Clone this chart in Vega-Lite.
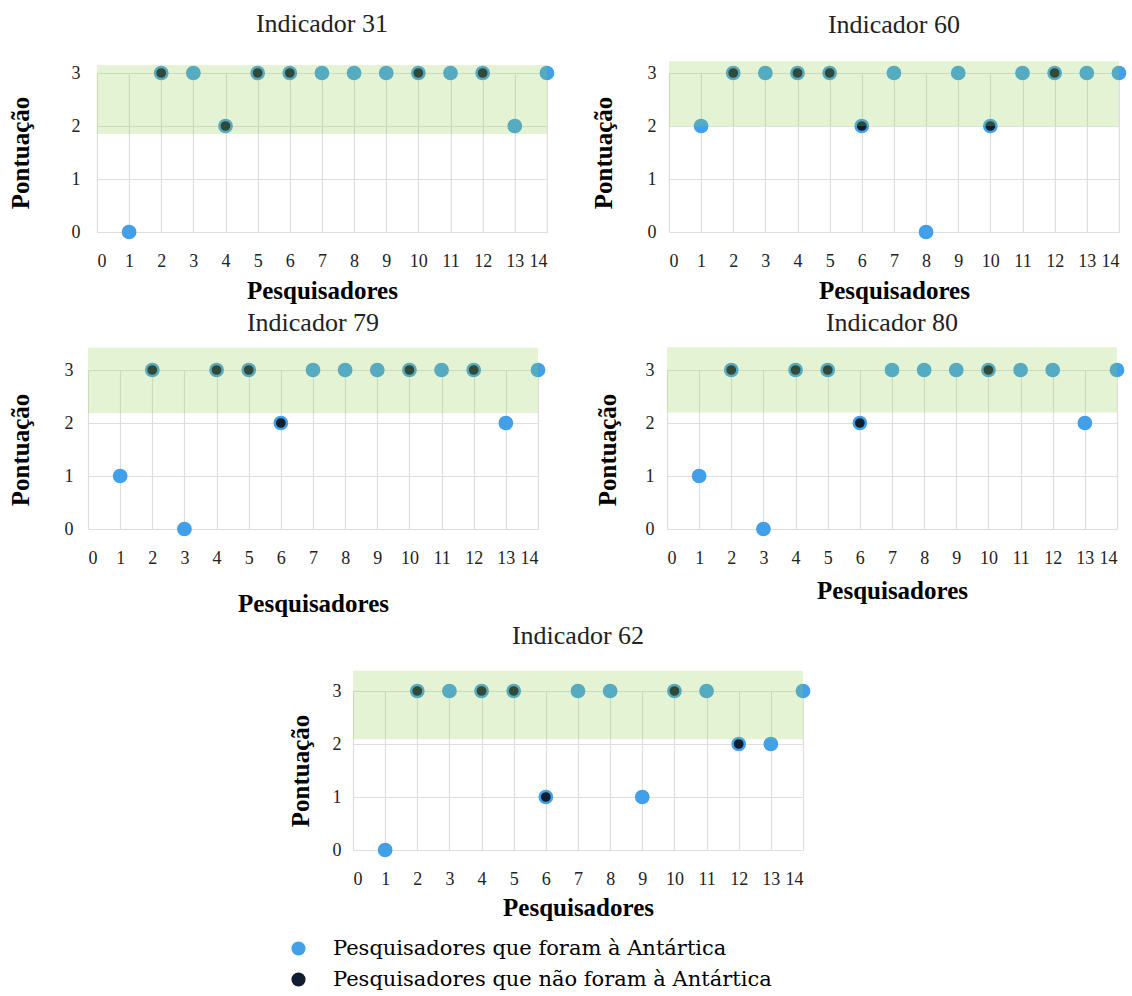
{
  "$schema": "https://vega.github.io/schema/vega-lite/v6.json",
  "padding": {"left": 8, "top": 10, "right": 2, "bottom": 2},
  "background": "white",
  "datasets": {
    "pts": [
      {"ind": 31, "pesquisador": 1, "pontuacao": 0, "grupo": "Pesquisadores que foram à Antártica"},
      {"ind": 31, "pesquisador": 2, "pontuacao": 3, "grupo": "Pesquisadores que não foram à Antártica"},
      {"ind": 31, "pesquisador": 3, "pontuacao": 3, "grupo": "Pesquisadores que foram à Antártica"},
      {"ind": 31, "pesquisador": 4, "pontuacao": 2, "grupo": "Pesquisadores que não foram à Antártica"},
      {"ind": 31, "pesquisador": 5, "pontuacao": 3, "grupo": "Pesquisadores que não foram à Antártica"},
      {"ind": 31, "pesquisador": 6, "pontuacao": 3, "grupo": "Pesquisadores que não foram à Antártica"},
      {"ind": 31, "pesquisador": 7, "pontuacao": 3, "grupo": "Pesquisadores que foram à Antártica"},
      {"ind": 31, "pesquisador": 8, "pontuacao": 3, "grupo": "Pesquisadores que foram à Antártica"},
      {"ind": 31, "pesquisador": 9, "pontuacao": 3, "grupo": "Pesquisadores que foram à Antártica"},
      {"ind": 31, "pesquisador": 10, "pontuacao": 3, "grupo": "Pesquisadores que não foram à Antártica"},
      {"ind": 31, "pesquisador": 11, "pontuacao": 3, "grupo": "Pesquisadores que foram à Antártica"},
      {"ind": 31, "pesquisador": 12, "pontuacao": 3, "grupo": "Pesquisadores que não foram à Antártica"},
      {"ind": 31, "pesquisador": 13, "pontuacao": 2, "grupo": "Pesquisadores que foram à Antártica"},
      {"ind": 31, "pesquisador": 14, "pontuacao": 3, "grupo": "Pesquisadores que foram à Antártica"},

      {"ind": 60, "pesquisador": 1, "pontuacao": 2, "grupo": "Pesquisadores que foram à Antártica"},
      {"ind": 60, "pesquisador": 2, "pontuacao": 3, "grupo": "Pesquisadores que não foram à Antártica"},
      {"ind": 60, "pesquisador": 3, "pontuacao": 3, "grupo": "Pesquisadores que foram à Antártica"},
      {"ind": 60, "pesquisador": 4, "pontuacao": 3, "grupo": "Pesquisadores que não foram à Antártica"},
      {"ind": 60, "pesquisador": 5, "pontuacao": 3, "grupo": "Pesquisadores que não foram à Antártica"},
      {"ind": 60, "pesquisador": 6, "pontuacao": 2, "grupo": "Pesquisadores que não foram à Antártica"},
      {"ind": 60, "pesquisador": 7, "pontuacao": 3, "grupo": "Pesquisadores que foram à Antártica"},
      {"ind": 60, "pesquisador": 8, "pontuacao": 0, "grupo": "Pesquisadores que foram à Antártica"},
      {"ind": 60, "pesquisador": 9, "pontuacao": 3, "grupo": "Pesquisadores que foram à Antártica"},
      {"ind": 60, "pesquisador": 10, "pontuacao": 2, "grupo": "Pesquisadores que não foram à Antártica"},
      {"ind": 60, "pesquisador": 11, "pontuacao": 3, "grupo": "Pesquisadores que foram à Antártica"},
      {"ind": 60, "pesquisador": 12, "pontuacao": 3, "grupo": "Pesquisadores que não foram à Antártica"},
      {"ind": 60, "pesquisador": 13, "pontuacao": 3, "grupo": "Pesquisadores que foram à Antártica"},
      {"ind": 60, "pesquisador": 14, "pontuacao": 3, "grupo": "Pesquisadores que foram à Antártica"},

      {"ind": 79, "pesquisador": 1, "pontuacao": 1, "grupo": "Pesquisadores que foram à Antártica"},
      {"ind": 79, "pesquisador": 2, "pontuacao": 3, "grupo": "Pesquisadores que não foram à Antártica"},
      {"ind": 79, "pesquisador": 3, "pontuacao": 0, "grupo": "Pesquisadores que foram à Antártica"},
      {"ind": 79, "pesquisador": 4, "pontuacao": 3, "grupo": "Pesquisadores que não foram à Antártica"},
      {"ind": 79, "pesquisador": 5, "pontuacao": 3, "grupo": "Pesquisadores que não foram à Antártica"},
      {"ind": 79, "pesquisador": 6, "pontuacao": 2, "grupo": "Pesquisadores que não foram à Antártica"},
      {"ind": 79, "pesquisador": 7, "pontuacao": 3, "grupo": "Pesquisadores que foram à Antártica"},
      {"ind": 79, "pesquisador": 8, "pontuacao": 3, "grupo": "Pesquisadores que foram à Antártica"},
      {"ind": 79, "pesquisador": 9, "pontuacao": 3, "grupo": "Pesquisadores que foram à Antártica"},
      {"ind": 79, "pesquisador": 10, "pontuacao": 3, "grupo": "Pesquisadores que não foram à Antártica"},
      {"ind": 79, "pesquisador": 11, "pontuacao": 3, "grupo": "Pesquisadores que foram à Antártica"},
      {"ind": 79, "pesquisador": 12, "pontuacao": 3, "grupo": "Pesquisadores que não foram à Antártica"},
      {"ind": 79, "pesquisador": 13, "pontuacao": 2, "grupo": "Pesquisadores que foram à Antártica"},
      {"ind": 79, "pesquisador": 14, "pontuacao": 3, "grupo": "Pesquisadores que foram à Antártica"},

      {"ind": 80, "pesquisador": 1, "pontuacao": 1, "grupo": "Pesquisadores que foram à Antártica"},
      {"ind": 80, "pesquisador": 2, "pontuacao": 3, "grupo": "Pesquisadores que não foram à Antártica"},
      {"ind": 80, "pesquisador": 3, "pontuacao": 0, "grupo": "Pesquisadores que foram à Antártica"},
      {"ind": 80, "pesquisador": 4, "pontuacao": 3, "grupo": "Pesquisadores que não foram à Antártica"},
      {"ind": 80, "pesquisador": 5, "pontuacao": 3, "grupo": "Pesquisadores que não foram à Antártica"},
      {"ind": 80, "pesquisador": 6, "pontuacao": 2, "grupo": "Pesquisadores que não foram à Antártica"},
      {"ind": 80, "pesquisador": 7, "pontuacao": 3, "grupo": "Pesquisadores que foram à Antártica"},
      {"ind": 80, "pesquisador": 8, "pontuacao": 3, "grupo": "Pesquisadores que foram à Antártica"},
      {"ind": 80, "pesquisador": 9, "pontuacao": 3, "grupo": "Pesquisadores que foram à Antártica"},
      {"ind": 80, "pesquisador": 10, "pontuacao": 3, "grupo": "Pesquisadores que não foram à Antártica"},
      {"ind": 80, "pesquisador": 11, "pontuacao": 3, "grupo": "Pesquisadores que foram à Antártica"},
      {"ind": 80, "pesquisador": 12, "pontuacao": 3, "grupo": "Pesquisadores que foram à Antártica"},
      {"ind": 80, "pesquisador": 13, "pontuacao": 2, "grupo": "Pesquisadores que foram à Antártica"},
      {"ind": 80, "pesquisador": 14, "pontuacao": 3, "grupo": "Pesquisadores que foram à Antártica"},

      {"ind": 62, "pesquisador": 1, "pontuacao": 0, "grupo": "Pesquisadores que foram à Antártica"},
      {"ind": 62, "pesquisador": 2, "pontuacao": 3, "grupo": "Pesquisadores que não foram à Antártica"},
      {"ind": 62, "pesquisador": 3, "pontuacao": 3, "grupo": "Pesquisadores que foram à Antártica"},
      {"ind": 62, "pesquisador": 4, "pontuacao": 3, "grupo": "Pesquisadores que não foram à Antártica"},
      {"ind": 62, "pesquisador": 5, "pontuacao": 3, "grupo": "Pesquisadores que não foram à Antártica"},
      {"ind": 62, "pesquisador": 6, "pontuacao": 1, "grupo": "Pesquisadores que não foram à Antártica"},
      {"ind": 62, "pesquisador": 7, "pontuacao": 3, "grupo": "Pesquisadores que foram à Antártica"},
      {"ind": 62, "pesquisador": 8, "pontuacao": 3, "grupo": "Pesquisadores que foram à Antártica"},
      {"ind": 62, "pesquisador": 9, "pontuacao": 1, "grupo": "Pesquisadores que foram à Antártica"},
      {"ind": 62, "pesquisador": 10, "pontuacao": 3, "grupo": "Pesquisadores que não foram à Antártica"},
      {"ind": 62, "pesquisador": 11, "pontuacao": 3, "grupo": "Pesquisadores que foram à Antártica"},
      {"ind": 62, "pesquisador": 12, "pontuacao": 2, "grupo": "Pesquisadores que não foram à Antártica"},
      {"ind": 62, "pesquisador": 13, "pontuacao": 2, "grupo": "Pesquisadores que foram à Antártica"},
      {"ind": 62, "pesquisador": 14, "pontuacao": 3, "grupo": "Pesquisadores que foram à Antártica"}
    ],
    "faixas": [
      {"ind": 31, "pesquisador": 0, "pesquisador_fim": 14, "pontuacao": 1.85, "pontuacao_fim": 3.15},
      {"ind": 60, "pesquisador": 0, "pesquisador_fim": 14, "pontuacao": 2.0, "pontuacao_fim": 3.22},
      {"ind": 79, "pesquisador": 0, "pesquisador_fim": 14, "pontuacao": 2.19, "pontuacao_fim": 3.42},
      {"ind": 80, "pesquisador": 0, "pesquisador_fim": 14, "pontuacao": 2.2, "pontuacao_fim": 3.43},
      {"ind": 62, "pesquisador": 0, "pesquisador_fim": 14, "pontuacao": 2.09, "pontuacao_fim": 3.38}
    ]
  },
  "config": {
    "view": {"stroke": null},
    "font": "Liberation Serif",
    "title": {"font": "Liberation Serif", "fontSize": 26, "fontWeight": "normal", "color": "#222222", "offset": 20},
    "axis": {
      "labelFont": "Liberation Serif", "labelFontSize": 18, "labelColor": "#222222",
      "titleFont": "Liberation Serif", "titleFontSize": 25, "titleFontWeight": "bold", "titleColor": "#000000",
      "grid": true, "gridColor": "#dedede", "gridWidth": 1.2,
      "domain": false, "ticks": false, "tickSize": 0
    },
    "axisX": {"labelPadding": 20, "titlePadding": 8},
    "axisY": {"labelPadding": 16, "titlePadding": 30}
  },
  "center": true,
  "spacing": 6,
  "vconcat": [
    {
      "spacing": 33,
      "hconcat": [
        {
          "title": {"text": "Indicador 31", "offset": 25}, "width": 450, "height": 159,
          "encoding": {
            "x": {"field": "pesquisador", "type": "quantitative", "scale": {"domain": [0, 14], "nice": false}, "axis": {"values": [0,1,2,3,4,5,6,7,8,9,10,11,12,13,14], "title": "Pesquisadores"}},
            "y": {"field": "pontuacao", "type": "quantitative", "scale": {"domain": [0, 3], "nice": false}, "axis": {"values": [0,1,2,3], "title": "Pontuação", "labelPadding": 17, "titlePadding": 37}}
          },
          "layer": [
            {"data": {"name": "pts"}, "transform": [{"filter": "datum.ind === 31"}],
             "mark": {"type": "circle", "size": 150, "opacity": 1, "stroke": "#41a0e8", "strokeWidth": 2.5},
             "encoding": {"color": {"field": "grupo", "type": "nominal", "scale": {"domain": ["Pesquisadores que foram à Antártica", "Pesquisadores que não foram à Antártica"], "range": ["#41a0e8", "#111d30"]},
               "legend": {"title": null, "orient": "none", "legendX": 200, "legendY": 865, "direction": "vertical", "labelFont": "DejaVu Serif", "labelFontSize": 21, "labelColor": "#000000", "symbolType": "circle", "symbolSize": 200, "symbolStrokeWidth": 0, "rowPadding": 9, "labelOffset": 24, "labelLimit": 700}}}},
            {"data": {"name": "faixas"}, "transform": [{"filter": "datum.ind === 31"}],
             "mark": {"type": "rect", "color": "#92d050", "opacity": 0.25},
             "encoding": {"x2": {"field": "pesquisador_fim"}, "y2": {"field": "pontuacao_fim"}}}
          ]
        },
        {
          "title": {"text": "Indicador 60", "offset": 23}, "width": 450, "height": 159,
          "encoding": {
            "x": {"field": "pesquisador", "type": "quantitative", "scale": {"domain": [0, 14], "nice": false}, "axis": {"values": [0,1,2,3,4,5,6,7,8,9,10,11,12,13,14], "title": "Pesquisadores"}},
            "y": {"field": "pontuacao", "type": "quantitative", "scale": {"domain": [0, 3], "nice": false}, "axis": {"values": [0,1,2,3], "title": "Pontuação", "labelPadding": 13, "titlePadding": 30}}
          },
          "layer": [
            {"data": {"name": "pts"}, "transform": [{"filter": "datum.ind === 60"}],
             "mark": {"type": "circle", "size": 150, "opacity": 1, "stroke": "#41a0e8", "strokeWidth": 2.5},
             "encoding": {"color": {"field": "grupo", "type": "nominal"}}},
            {"data": {"name": "faixas"}, "transform": [{"filter": "datum.ind === 60"}],
             "mark": {"type": "rect", "color": "#92d050", "opacity": 0.25},
             "encoding": {"x2": {"field": "pesquisador_fim"}, "y2": {"field": "pontuacao_fim"}}}
          ]
        }
      ]
    },
    {
      "spacing": 45,
      "hconcat": [
        {
          "title": {"text": "Indicador 79", "offset": 12}, "width": 450, "height": 159,
          "encoding": {
            "x": {"field": "pesquisador", "type": "quantitative", "scale": {"domain": [0, 14], "nice": false}, "axis": {"values": [0,1,2,3,4,5,6,7,8,9,10,11,12,13,14], "title": "Pesquisadores", "titlePadding": 24}},
            "y": {"field": "pontuacao", "type": "quantitative", "scale": {"domain": [0, 3], "nice": false}, "axis": {"values": [0,1,2,3], "title": "Pontuação", "labelPadding": 15, "titlePadding": 31}}
          },
          "layer": [
            {"data": {"name": "pts"}, "transform": [{"filter": "datum.ind === 79"}],
             "mark": {"type": "circle", "size": 150, "opacity": 1, "stroke": "#41a0e8", "strokeWidth": 2.5},
             "encoding": {"color": {"field": "grupo", "type": "nominal"}}},
            {"data": {"name": "faixas"}, "transform": [{"filter": "datum.ind === 79"}],
             "mark": {"type": "rect", "color": "#92d050", "opacity": 0.25},
             "encoding": {"x2": {"field": "pesquisador_fim"}, "y2": {"field": "pontuacao_fim"}}}
          ]
        },
        {
          "title": {"text": "Indicador 80", "offset": 11}, "width": 450, "height": 159,
          "resolve": {"axis": {"y": "independent"}},
          "encoding": {
            "x": {"field": "pesquisador", "type": "quantitative", "scale": {"domain": [0, 14], "nice": false}, "axis": {"values": [0,1,2,3,4,5,6,7,8,9,10,11,12,13,14], "title": "Pesquisadores", "titlePadding": 11}}
          },
          "layer": [
            {"data": {"name": "pts"}, "transform": [{"filter": "datum.ind === 80"}],
             "mark": {"type": "circle", "size": 150, "opacity": 1, "stroke": "#41a0e8", "strokeWidth": 2.5},
             "encoding": {
               "y": {"field": "pontuacao", "type": "quantitative", "scale": {"domain": [0, 3], "nice": false}, "axis": {"values": [0,1,2,3], "title": "Pontuação", "labelPadding": 13, "titlePadding": 25}},
               "color": {"field": "grupo", "type": "nominal"}}},
            {"data": {"name": "faixas"}, "transform": [{"filter": "datum.ind === 80"}],
             "mark": {"type": "rect", "color": "#92d050", "opacity": 0.25},
             "encoding": {
               "y": {"field": "pontuacao", "type": "quantitative", "axis": {"orient": "right", "values": [0,1,2,3], "grid": false, "labelExpr": "' '", "labelOpacity": 0, "labelPadding": 22, "title": null}},
               "y2": {"field": "pontuacao_fim"},
               "x2": {"field": "pesquisador_fim"}}}
          ]
        }
      ]
    },
    {
      "title": {"text": "Indicador 62", "offset": 22}, "width": 450, "height": 159,
      "resolve": {"axis": {"y": "independent"}},
      "encoding": {
        "x": {"field": "pesquisador", "type": "quantitative", "scale": {"domain": [0, 14], "nice": false}, "axis": {"values": [0,1,2,3,4,5,6,7,8,9,10,11,12,13,14], "title": "Pesquisadores", "titlePadding": 7}}
      },
      "layer": [
        {"data": {"name": "pts"}, "transform": [{"filter": "datum.ind === 62"}],
         "mark": {"type": "circle", "size": 150, "opacity": 1, "stroke": "#41a0e8", "strokeWidth": 2.5},
         "encoding": {
           "y": {"field": "pontuacao", "type": "quantitative", "scale": {"domain": [0, 3], "nice": false}, "axis": {"values": [0,1,2,3], "title": "Pontuação", "labelPadding": 12, "titlePadding": 19}},
           "color": {"field": "grupo", "type": "nominal"}}},
        {"data": {"name": "faixas"}, "transform": [{"filter": "datum.ind === 62"}],
         "mark": {"type": "rect", "color": "#92d050", "opacity": 0.25},
         "encoding": {
           "y": {"field": "pontuacao", "type": "quantitative", "axis": {"orient": "right", "values": [0,1,2,3], "grid": false, "labelExpr": "' '", "labelOpacity": 0, "labelPadding": 71, "title": null}},
           "y2": {"field": "pontuacao_fim"},
           "x2": {"field": "pesquisador_fim"}}}
      ]
    }
  ]
}
